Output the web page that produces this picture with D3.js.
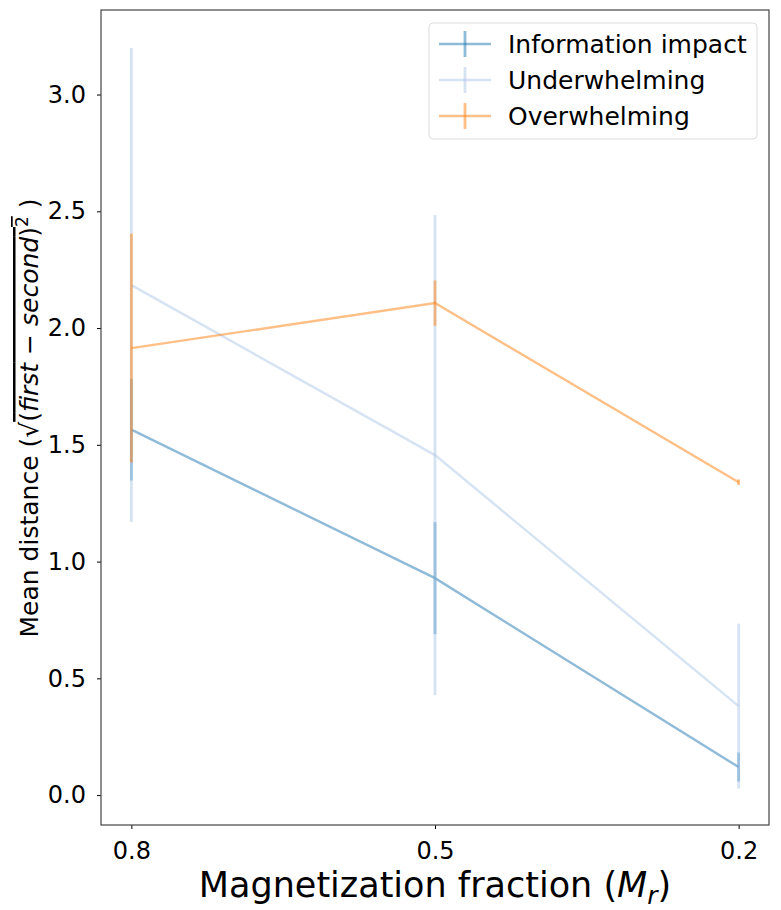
<!DOCTYPE html>
<html lang="en">
<head>
<meta charset="UTF-8" />
<title>Mean distance vs magnetization fraction</title>
<style>
  body { margin: 0; background: #fff; }
  text { font-family: "DejaVu Sans", sans-serif; }
</style>
</head>
<body>
<script src="https://cdn.jsdelivr.net/npm/d3@7"></script>
<div id="app"></div>
<script>
// data
const categories = ["0.8", "0.5", "0.2"];
const seriesNames = ["Information impact", "Underwhelming", "Overwhelming"];
const infoMean = [1.565, 0.929, 0.12];
const infoErr = [0.218, 0.24, 0.062];
const underMean = [2.184, 1.456, 0.381];
const underErr = [1.015, 1.028, 0.353];
const overMean = [1.914, 2.107, 1.34];
const overErr = [0.49, 0.097, 0.012];
const yTicks = [0, 0.5, 1.0, 1.5, 2.0, 2.5, 3.0];

const w = 781, h = 910;
const padL = 101, padR = 769, padT = 10, padB = 825;

const series = [
  { name: seriesNames[0], mean: infoMean, err: infoErr, color: "#1f77b4" },
  { name: seriesNames[1], mean: underMean, err: underErr, color: "#aec7e8" },
  { name: seriesNames[2], mean: overMean, err: overErr, color: "#ff7f0e" }
];

const svg = d3.select("#app").append("svg")
  .attr("width", w).attr("height", h);

const x = d3.scaleLinear().domain([-0.1, 2.1]).range([padL, padR]);
const y = d3.scaleLinear().domain([-0.128, 3.362]).range([padB, padT]);

// series: lines + error bars
series.forEach(s => {
  const g = svg.append("g");
  g.append("path")
    .datum(s.mean)
    .attr("fill", "none")
    .attr("stroke", s.color)
    .attr("stroke-opacity", 0.5)
    .attr("stroke-width", 2.4)
    .attr("d", d3.line().x((d, i) => x(i)).y(d => y(d)));
  g.selectAll("line")
    .data(s.mean)
    .enter().append("line")
    .attr("x1", (d, i) => x(i)).attr("x2", (d, i) => x(i))
    .attr("y1", (d, i) => y(d - s.err[i]))
    .attr("y2", (d, i) => y(d + s.err[i]))
    .attr("stroke", s.color)
    .attr("stroke-opacity", 0.5)
    .attr("stroke-width", 2.8);
});

// axes
const xAxis = d3.axisBottom(x).tickValues([0, 1, 2])
  .tickFormat(i => categories[i]).tickSize(4).tickPadding(13);
const yAxis = d3.axisLeft(y).tickValues(yTicks)
  .tickFormat(d3.format(".1f")).tickSize(4).tickPadding(11);

const gx = svg.append("g").attr("transform", "translate(0," + padB + ")").call(xAxis);
const gy = svg.append("g").attr("transform", "translate(" + padL + ",0)").call(yAxis);
[gx, gy].forEach(g => {
  g.select(".domain").remove();
  g.selectAll(".tick line").attr("stroke", "#000").attr("stroke-width", 1);
  g.selectAll(".tick text").attr("font-size", 24).attr("fill", "#000")
    .style("font-family", "DejaVu Sans");
});

// frame
svg.append("rect")
  .attr("x", padL).attr("y", padT)
  .attr("width", padR - padL).attr("height", padB - padT)
  .attr("fill", "none").attr("stroke", "#444").attr("stroke-width", 1.2);

// x label
const xl = svg.append("text")
  .attr("x", (padL + padR) / 2).attr("y", 897)
  .attr("text-anchor", "middle").attr("font-size", 35).attr("fill", "#000");
xl.append("tspan").text("Magnetization fraction (");
xl.append("tspan").attr("font-style", "italic").text("M");
xl.append("tspan").attr("font-style", "italic").attr("font-size", 25).attr("dy", 7).text("r");
xl.append("tspan").attr("dy", -7).text(")");

// y label
const yl = svg.append("text")
  .attr("transform", "translate(38," + 418 + ") rotate(-90)")
  .attr("text-anchor", "middle").attr("font-size", 25).attr("fill", "#000");
yl.append("tspan").text("Mean distance (√");
yl.append("tspan").style("text-decoration", "overline").text("(");
yl.append("tspan").style("text-decoration", "overline").attr("font-style", "italic").text("first");
yl.append("tspan").style("text-decoration", "overline").text(" − ");
yl.append("tspan").style("text-decoration", "overline").attr("font-style", "italic").text("second");
yl.append("tspan").style("text-decoration", "overline").text(")");
yl.append("tspan").style("text-decoration", "overline").attr("font-size", 17).attr("dy", -10).text("2");
yl.append("tspan").attr("dy", 10).text(" )");

// legend
const lg = svg.append("g").attr("transform", "translate(429,23)");
lg.append("rect")
  .attr("width", 328).attr("height", 116).attr("rx", 4)
  .attr("fill", "#fff").attr("fill-opacity", 0.8)
  .attr("stroke", "#ddd").attr("stroke-width", 1);
series.forEach((s, i) => {
  const cy = 21 + i * 36;
  lg.append("line").attr("x1", 10).attr("x2", 62).attr("y1", cy).attr("y2", cy)
    .attr("stroke", s.color).attr("stroke-opacity", 0.5).attr("stroke-width", 2.4);
  lg.append("line").attr("x1", 36).attr("x2", 36).attr("y1", cy - 13).attr("y2", cy + 13)
    .attr("stroke", s.color).attr("stroke-opacity", 0.5).attr("stroke-width", 2.8);
  lg.append("text").attr("x", 79).attr("y", cy + 9)
    .attr("font-size", 25).attr("fill", "#000").text(s.name);
});
</script>
</body>
</html>
